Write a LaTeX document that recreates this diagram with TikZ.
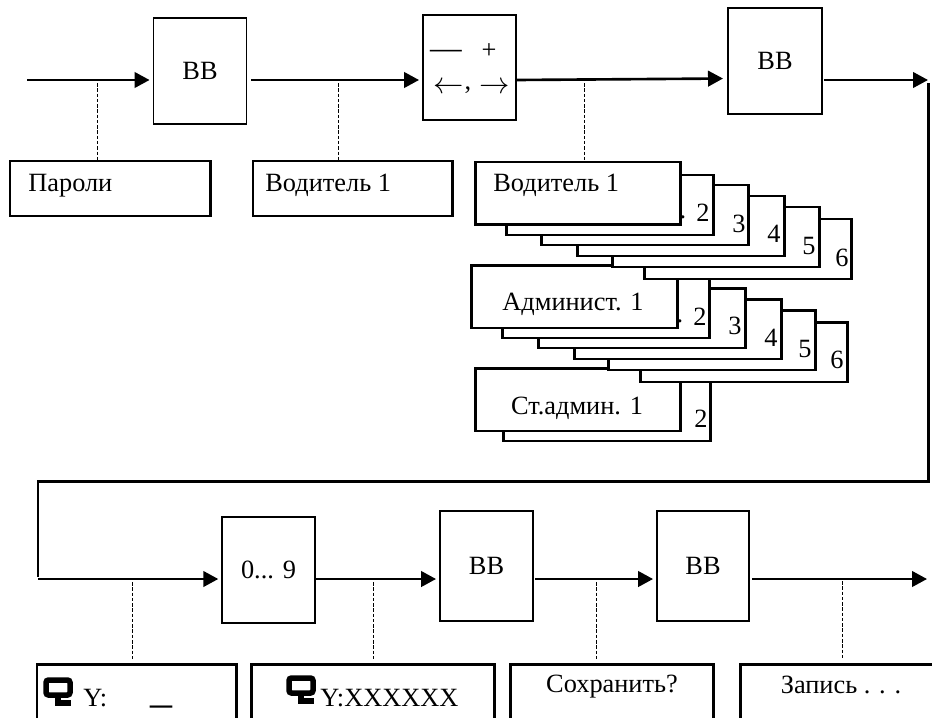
\documentclass[tikz,border=0pt]{standalone}
\usepackage{fontspec}
\setmainfont{Liberation Serif}
\usetikzlibrary{arrows.meta,positioning}

\begin{document}
\begin{tikzpicture}[x=0.02cm, y=-0.02cm,
    keybox/.style={draw, line width=1.1pt, inner sep=0pt, font=\fontsize{15}{17}\selectfont},
    textbox/.style={draw, line width=1.7pt, anchor=north west, inner sep=0pt, outer sep=0pt},
    sheet/.style={draw, fill=white, line width=1.7pt, anchor=north west, inner sep=0pt, outer sep=0pt,
        minimum width=4.16cm, minimum height=1.2cm},
    topsheet/.style={sheet, minimum width=4.12cm, minimum height=1.26cm},
    lbl/.style={inner sep=0pt, font=\fontsize{15}{17}\selectfont},
    flow/.style={line width=1.5pt, shorten >=0.06cm, -{Triangle[length=0.3cm,width=0.31cm]}},
    tapline/.style={dash pattern=on 2pt off 1pt, line width=0.5pt},
    returnline/.style={line width=1.7pt},
    termicon/.pic={
        \draw[line width=0.11cm, rounded corners=0.05cm] (3,3) rectangle (27,18);
        \draw[line width=0.11cm] (15,18) -- (15,26) -- (28,26);
    }]
    \useasboundingbox (0,0) rectangle (932,717);
    \clip (0,0) rectangle (932,717);

    % upper row
    \node[keybox, minimum width=1.86cm, minimum height=2.11cm] (bbOne) at (200,71) {ВВ};
    \node[keybox, minimum width=1.86cm, minimum height=2.10cm] (keyBox) at (469.5,67.5) {};
    \node[keybox, minimum width=1.88cm, minimum height=2.12cm] (bbTwo) at (775,61) {ВВ};
    \node[lbl, font=\fontsize{18}{18}\selectfont] (keyDash) at (446,54) {---};
    \node[lbl] (keyPlus) at (489,51) {+};
    \node[lbl, font=\fontsize{18}{18}\selectfont] (keyLeft) at (449,88) {$\leftarrow$};
    \node[lbl] (keyComma) at (468,90) {,};
    \node[lbl, font=\fontsize{18}{18}\selectfont] (keyRight) at (495,88) {$\rightarrow$};

    \coordinate (inA) at (27,80);
    \coordinate (outA) at (251,80);
    \coordinate (outB) at (516,80);
    \coordinate (inC) at (726,78.5);
    \coordinate (outC) at (824,80);
    \coordinate (turnA) at (931,80);
    \draw[flow] (inA) -- (inA -| bbOne.west);
    \draw[flow] (outA) -- (outA -| keyBox.west);
    \draw[flow] (outB) -- (inC);
    \draw[flow] (outC) -- (turnA);

    % password and first driver boxes
    \node[textbox, minimum width=4.02cm, minimum height=1.10cm] (pwdBox) at (10,161) {};
    \node[lbl, anchor=west] (pwdText) at (28,186) {Пароли};
    \node[textbox, minimum width=4.00cm, minimum height=1.10cm] (drvBox) at (253,161) {};
    \node[lbl, anchor=west] (drvText) at (265,185) {Водитель 1};

    % senior admin sheets
    \node[sheet] (senB) at (503,381) {};
    \node[topsheet] (senA) at (475,368) {};
    \node[lbl] (senTextA) at (577,408) {Ст.админ. 1};
    \node[lbl] (senTextB) at (701,419) {2};

    % admin sheets
    \node[sheet] (admF) at (640,322) {};
    \node[sheet] (admE) at (608,310) {};
    \node[sheet] (admD) at (574,299) {};
    \node[sheet] (admC) at (538,288) {};
    \node[sheet] (admB) at (502,278) {};
    \node[topsheet] (admA) at (471.5,265) {};
    \node[lbl] (admTextA) at (573,304) {Админист. 1};
    \node[lbl] (admDot) at (680,321) {.};
    \node[lbl] (admTextB) at (700,317) {2};
    \node[lbl] (admTextC) at (735,326) {3};
    \node[lbl] (admTextD) at (771,338) {4};
    \node[lbl] (admTextE) at (805,349) {5};
    \node[lbl] (admTextF) at (837,360) {6};

    % driver sheets
    \node[sheet] (sheF) at (644,219) {};
    \node[sheet] (sheE) at (612,207) {};
    \node[sheet] (sheD) at (577,196) {};
    \node[sheet] (sheC) at (541,185) {};
    \node[sheet] (sheB) at (506,175) {};
    \node[topsheet] (sheA) at (475,162) {};
    \node[lbl, anchor=west] (sheTextA) at (493,185) {Водитель 1};
    \node[lbl] (sheDot) at (683,217) {.};
    \node[lbl] (sheTextB) at (703,213) {2};
    \node[lbl] (sheTextC) at (739,224) {3};
    \node[lbl] (sheTextD) at (774,234) {4};
    \node[lbl] (sheTextE) at (809,246) {5};
    \node[lbl] (sheTextF) at (842,258) {6};

    % dashed links of the upper row
    \coordinate (tapA) at (97,83);
    \coordinate (tapB) at (338,83);
    \coordinate (tapC) at (584,83);
    \draw[tapline] (tapA) -- (tapA |- pwdBox.north);
    \draw[tapline] (tapB) -- (tapB |- drvBox.north);
    \draw[tapline] (tapC) -- (tapC |- sheA.north);

    % line back to the lower row
    \coordinate (backA) at (928,83);
    \coordinate (backB) at (928,481);
    \coordinate (backC) at (38,481);
    \coordinate (backD) at (38,577);
    \draw[returnline] (backA) -- (backB) -- (backC) -- (backD);

    % lower row
    \node[keybox, minimum width=1.85cm, minimum height=2.12cm] (digBox) at (268.5,570) {0... 9};
    \node[keybox, minimum width=1.86cm, minimum height=2.20cm] (bbThree) at (486.5,566) {ВВ};
    \node[keybox, minimum width=1.84cm, minimum height=2.20cm] (bbFour) at (703,566) {ВВ};
    \coordinate (inD) at (38,579);
    \coordinate (outD) at (315,579);
    \coordinate (outE) at (535,579);
    \coordinate (outF) at (752,579);
    \coordinate (endF) at (930,579);
    \draw[flow] (inD) -- (inD -| digBox.west);
    \draw[flow] (outD) -- (outD -| bbThree.west);
    \draw[flow] (outE) -- (outE -| bbFour.west);
    \draw[flow] (outF) -- (endF);

    % display boxes, cut by the page edge
    \node[textbox, minimum width=4.00cm, minimum height=1.5cm] (dispA) at (37,664) {};
    \node[textbox, minimum width=4.87cm, minimum height=1.5cm] (dispB) at (251.5,664) {};
    \node[textbox, minimum width=4.08cm, minimum height=1.5cm] (dispC) at (510,664) {};
    \node[textbox, minimum width=4.40cm, minimum height=1.5cm] (dispD) at (740,664) {};
    \pic (iconA) at (43,677) {termicon};
    \pic (iconB) at (286,675) {termicon};
    \node[lbl, anchor=west] (dispTextA) at (83,698) {Y:};
    \node[lbl, font=\fontsize{25}{25}\selectfont] (dispCursor) at (161,705) {\_};
    \node[lbl, anchor=west] (dispTextB) at (320,698) {Y:XXXXXX};
    \node[lbl] (dispTextC) at (612,687) {Сохранить?};
    \node[lbl] (dispTextD) at (841,685) {Запись . . .};

    % dashed links of the lower row
    \coordinate (tapD) at (132,582);
    \coordinate (tapE) at (373,582);
    \coordinate (tapF) at (596,582);
    \coordinate (tapG) at (842,581);
    \draw[tapline] (tapD) -- ([yshift=0.06cm]tapD |- dispA.north);
    \draw[tapline] (tapE) -- ([yshift=0.06cm]tapE |- dispB.north);
    \draw[tapline] (tapF) -- ([yshift=0.06cm]tapF |- dispC.north);
    \draw[tapline] (tapG) -- ([yshift=0.08cm]tapG |- dispD.north);
\end{tikzpicture}
\end{document}
